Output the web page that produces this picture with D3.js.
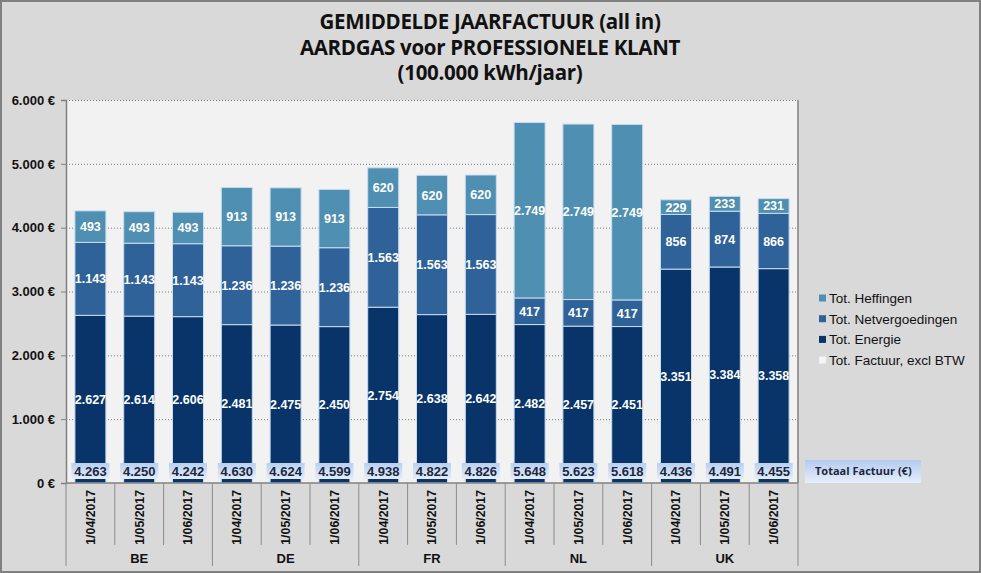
<!DOCTYPE html>
<html>
<head>
<meta charset="utf-8">
<script src="https://cdn.jsdelivr.net/npm/d3@7/dist/d3.min.js"></script>
<style>
  html, body { margin: 0; padding: 0; background: #d9d9d9; }
  svg { display: block; }
</style>
</head>
<body>
<svg id="chart" width="981" height="573"></svg>
<script>
// ---------- DATA ----------
const countries = ["BE", "DE", "FR", "NL", "UK"];
const dates = ["1/04/2017", "1/05/2017", "1/06/2017"];
const energie = [2627, 2614, 2606, 2481, 2475, 2450, 2754, 2638, 2642, 2482, 2457, 2451, 3351, 3384, 3358];
const netvergoedingen = [1143, 1143, 1143, 1236, 1236, 1236, 1563, 1563, 1563, 417, 417, 417, 856, 874, 866];
const heffingen = [493, 493, 493, 913, 913, 913, 620, 620, 620, 2749, 2749, 2749, 229, 233, 231];
const totaal = [4263, 4250, 4242, 4630, 4624, 4599, 4938, 4822, 4826, 5648, 5623, 5618, 4436, 4491, 4455];
const yTicks = [0, 1000, 2000, 3000, 4000, 5000, 6000];
const seriesNames = ["Tot. Energie", "Tot. Netvergoedingen", "Tot. Heffingen"];
const legendNames = ["Tot. Heffingen", "Tot. Netvergoedingen", "Tot. Energie", "Tot. Factuur, excl BTW"];
const titleLines = ["GEMIDDELDE JAARFACTUUR (all in)", "AARDGAS voor PROFESSIONELE KLANT", "(100.000 kWh/jaar)"];
const totalLabel = "Totaal Factuur (€)";

// ---------- SETUP ----------
const W = 981, H = 573;
const plot = { left: 66, right: 798, top: 100, bottom: 483 };
const colors = {
  "Tot. Energie": "#08346a",
  "Tot. Netvergoedingen": "#2f6299",
  "Tot. Heffingen": "#4f8fb1",
  "Tot. Factuur, excl BTW": "#f4f4f4"
};
const locale = d3.formatLocale({ decimal: ",", thousands: ".", grouping: [3], currency: ["", " €"] });
const fmt = locale.format(",d");

const cats = [];
countries.forEach(c => dates.forEach(d => cats.push(c + "|" + d)));
const rows = cats.map((k, i) => ({
  key: k,
  country: k.split("|")[0],
  date: k.split("|")[1],
  "Tot. Energie": energie[i],
  "Tot. Netvergoedingen": netvergoedingen[i],
  "Tot. Heffingen": heffingen[i],
  total: totaal[i]
}));

const svg = d3.select("#chart");
const defs = svg.append("defs");
const grad = defs.append("linearGradient").attr("id", "boxGrad").attr("x1", 0).attr("y1", 0).attr("x2", 0).attr("y2", 1);
grad.append("stop").attr("offset", "0%").attr("stop-color", "#b9cff0");
grad.append("stop").attr("offset", "100%").attr("stop-color", "#e3edf9");
const grad2 = defs.append("linearGradient").attr("id", "boxGrad2").attr("x1", 0).attr("y1", 0).attr("x2", 0).attr("y2", 1);
grad2.append("stop").attr("offset", "0%").attr("stop-color", "#b4cbef");
grad2.append("stop").attr("offset", "100%").attr("stop-color", "#e6eefa");

// background + frame
svg.append("rect").attr("x", 1).attr("y", 1).attr("width", W - 2).attr("height", H - 2)
  .attr("fill", "#d9d9d9").attr("stroke", "#808080").attr("stroke-width", 2);

// title
const sansNarrow = "'Open Sans', 'Liberation Sans', sans-serif";
const sans = "'Liberation Sans', Arial, sans-serif";
svg.append("g").selectAll("text").data(titleLines).join("text")
  .attr("x", 490).attr("y", (d, i) => 29 + i * 25.5)
  .attr("text-anchor", "middle")
  .attr("font-family", sansNarrow).attr("font-weight", "bold").attr("font-size", 20.5)
  .attr("letter-spacing", -0.3)
  .attr("fill", "#111").text(d => d);

// scales
const x = d3.scaleBand().domain(cats).range([plot.left, plot.right]).paddingInner(0.365).paddingOuter(0.1825);
const y = d3.scaleLinear().domain([0, 6000]).range([plot.bottom, plot.top]);
const step = x.step();
const catLeft = k => x(k) - x.paddingInner() * step / 2;

// plot area
svg.append("rect").attr("x", plot.left).attr("y", plot.top)
  .attr("width", plot.right - plot.left).attr("height", plot.bottom - plot.top)
  .attr("fill", "#f2f2f2");
svg.append("line").attr("x1", plot.right).attr("x2", plot.right).attr("y1", plot.top).attr("y2", plot.bottom)
  .attr("stroke", "#7f7f7f").attr("stroke-width", 1.5);

// gridlines
svg.append("g").selectAll("line").data(yTicks.filter(t => t > 0)).join("line")
  .attr("x1", plot.left).attr("x2", plot.right)
  .attr("y1", d => y(d) + 0.5).attr("y2", d => y(d) + 0.5)
  .attr("stroke", "#7a7a7a").attr("stroke-width", 1).attr("stroke-dasharray", "1,2");

// y axis
const yAxis = svg.append("g").attr("transform", `translate(${plot.left},0)`)
  .call(d3.axisLeft(y).tickValues(yTicks).tickSize(5).tickPadding(6).tickFormat(d => fmt(d) + " €"));
yAxis.select(".domain").attr("stroke", "#808080").attr("stroke-width", 1.5);
yAxis.selectAll(".tick line").attr("stroke", "#808080");
yAxis.selectAll(".tick text").attr("font-family", sans).attr("font-weight", "bold")
  .attr("font-size", 13).attr("fill", "#111");

// stacked bars
const stack = d3.stack().keys(seriesNames)(rows);
const layers = svg.append("g").selectAll("g").data(stack).join("g")
  .attr("fill", d => colors[d.key]);
layers.selectAll("rect").data(d => d).join("rect")
  .attr("x", d => x(d.data.key))
  .attr("width", x.bandwidth())
  .attr("y", d => y(d[1]))
  .attr("height", d => y(d[0]) - y(d[1]))
  .attr("stroke", "#c9dcf0").attr("stroke-width", 1);

// segment labels
layers.selectAll("text").data(d => d.map(v => ({ v, key: d.key }))).join("text")
  .attr("x", d => x(d.v.data.key) + x.bandwidth() / 2)
  .attr("y", d => y((d.v[0] + d.v[1]) / 2))
  .attr("dy", "0.36em")
  .attr("text-anchor", "middle")
  .attr("font-family", sans).attr("font-weight", "bold").attr("font-size", 12.5)
  .attr("fill", "#ffffff")
  .text(d => fmt(d.v.data[d.key]));

// total labels (boxes)
const boxW = 38, boxH = 16;
const totG = svg.append("g").selectAll("g").data(rows).join("g")
  .attr("transform", d => `translate(${x(d.key) + x.bandwidth() / 2},${y(0) - 20})`);
totG.append("rect").attr("x", -boxW / 2).attr("y", 0).attr("width", boxW).attr("height", boxH)
  .attr("fill", "url(#boxGrad)");
totG.append("text").attr("x", 0).attr("y", boxH / 2).attr("dy", "0.36em")
  .attr("text-anchor", "middle")
  .attr("font-family", sans).attr("font-weight", "bold").attr("font-size", 13)
  .attr("fill", "#1c2740").text(d => fmt(d.total));

// x axis base
svg.append("line").attr("x1", plot.left).attr("x2", plot.right).attr("y1", plot.bottom).attr("y2", plot.bottom)
  .attr("stroke", "#808080").attr("stroke-width", 1.5);

// category dividers
const axG = svg.append("g");
cats.forEach((k, i) => {
  const isGroup = i % dates.length === 0;
  axG.append("line").attr("x1", catLeft(k)).attr("x2", catLeft(k))
    .attr("y1", plot.bottom).attr("y2", isGroup ? 566 : 545)
    .attr("stroke", "#8c8c8c").attr("stroke-width", 1);
});
axG.append("line").attr("x1", plot.right).attr("x2", plot.right)
  .attr("y1", plot.bottom).attr("y2", 566).attr("stroke", "#8c8c8c").attr("stroke-width", 1);

// category labels (rotated)
axG.selectAll("text.cat").data(rows).join("text").attr("class", "cat")
  .attr("transform", d => `translate(${x(d.key) + x.bandwidth() / 2},490) rotate(-90)`)
  .attr("text-anchor", "end").attr("dy", "0.36em")
  .attr("font-family", sans).attr("font-weight", "bold").attr("font-size", 12.3)
  .attr("fill", "#111").text(d => d.date);

// group labels
axG.selectAll("text.grp").data(countries).join("text").attr("class", "grp")
  .attr("x", c => catLeft(c + "|" + dates[0]) + step * dates.length / 2)
  .attr("y", 558).attr("dy", "0.36em")
  .attr("text-anchor", "middle")
  .attr("font-family", sans).attr("font-weight", "bold").attr("font-size", 13)
  .attr("fill", "#111").text(c => c);

// legend
const leg = svg.append("g").selectAll("g").data(legendNames).join("g")
  .attr("transform", (d, i) => `translate(819,${298 + i * 20.7})`);
leg.append("rect").attr("x", 0).attr("y", -3.5).attr("width", 7).attr("height", 7)
  .attr("fill", d => colors[d]);
leg.append("text").attr("x", 10).attr("y", 0).attr("dy", "0.36em")
  .attr("font-family", sans).attr("font-size", 13.5).attr("fill", "#111").text(d => d);

// Totaal Factuur legend box
svg.append("rect").attr("x", 805).attr("y", 460).attr("width", 116).attr("height", 23)
  .attr("fill", "url(#boxGrad2)");
svg.append("text").attr("x", 815).attr("y", 471.5).attr("dy", "0.36em")
  .attr("font-family", sansNarrow).attr("font-weight", "bold").attr("font-size", 11)
  .attr("fill", "#1c2740").text(totalLabel);
</script>
</body>
</html>
